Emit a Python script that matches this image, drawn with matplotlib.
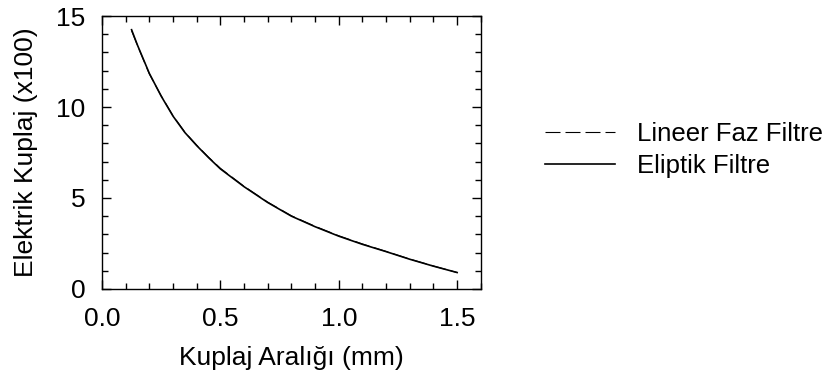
import numpy as np
import matplotlib.pyplot as plt
from matplotlib.ticker import MultipleLocator

plt.rcParams['font.family'] = ['Liberation Sans', 'DejaVu Sans']

# coupling gap (mm)
gap = [0.125, 0.15, 0.2, 0.25, 0.3, 0.35, 0.4, 0.45, 0.5, 0.6, 0.7, 0.8,
       0.9, 1.0, 1.1, 1.2, 1.3, 1.4, 1.5]
# electric coupling (x100)
k_lineer = [14.2, 13.38, 11.82, 10.62, 9.52, 8.62, 7.9, 7.24, 6.63, 5.64, 4.77,
            4.02, 3.44, 2.92, 2.47, 2.06, 1.64, 1.26, 0.9]
k_eliptik = [14.25, 13.4, 11.85, 10.6, 9.5, 8.6, 7.88, 7.22, 6.6, 5.62, 4.75,
             4.0, 3.42, 2.9, 2.45, 2.05, 1.63, 1.25, 0.9]

label_lineer = 'Lineer Faz Filtre'
label_eliptik = 'Eliptik Filtre'

fig = plt.figure(figsize=(8.29, 3.92), dpi=100)
ax = fig.add_axes([0.123, 0.263, 0.457, 0.696])

ax.plot(gap, k_lineer, color='black', lw=0.8, dashes=(13.5, 4.5), label=label_lineer)
ax.plot(gap, k_eliptik, color='black', lw=1.2, label=label_eliptik)

ax.set_xlim(0, 1.6)
ax.set_ylim(0, 15)
ax.xaxis.set_major_locator(MultipleLocator(0.5))
ax.xaxis.set_minor_locator(MultipleLocator(0.1))
ax.yaxis.set_major_locator(MultipleLocator(5))
ax.yaxis.set_minor_locator(MultipleLocator(1))
ax.set_xticks([0.0, 0.5, 1.0, 1.5])
ax.set_xticklabels(['0.0', '0.5', '1.0', '1.5'])
ax.tick_params(which='both', direction='in', top=True, right=True, labelsize=19, width=1.0)
ax.tick_params(which='major', length=6.5)
ax.tick_params(which='minor', length=4.3)
ax.tick_params(axis='x', which='major', pad=13)
ax.tick_params(axis='y', which='major', pad=12)
for s in ax.spines.values():
    s.set_linewidth(1.0)

ax.set_xlabel('Kuplaj Aralığı (mm)', fontsize=19, labelpad=11)
ax.set_ylabel('Elektrik Kuplaj (x100)', fontsize=19, labelpad=13)

fig.legend(loc='upper left', bbox_to_anchor=(0.63, 0.748), frameon=False,
           fontsize=18.5, handlelength=2.7, handletextpad=0.85, labelspacing=0.33)

plt.savefig('out.png', dpi=100)
